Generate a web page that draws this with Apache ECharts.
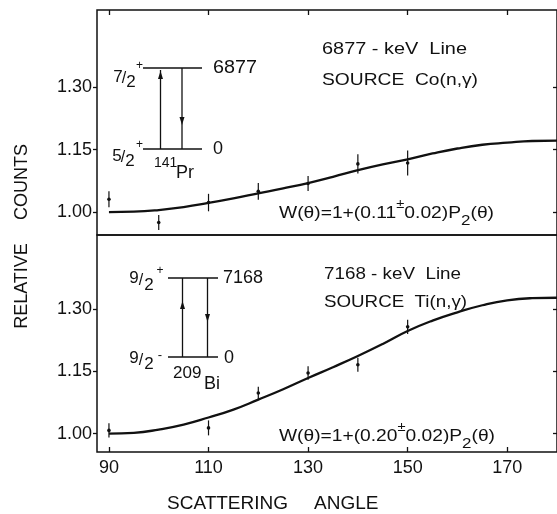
<!DOCTYPE html>
<html><head><meta charset="utf-8">
<script src="https://cdn.jsdelivr.net/npm/echarts@6/dist/echarts.min.js"></script>
<style>html,body{margin:0;padding:0;background:#fff}#c{width:557px;height:514px}</style>
</head><body><div id="c"></div>
<script>
// ---- data ----
const xTickValues = [90, 110, 130, 150, 170];
const yTickValues = [1.00, 1.15, 1.30];
const curveAngles = [90, 95, 100, 105, 110, 115, 120, 125, 130, 135, 140, 145, 150, 155, 160, 165, 170, 175, 180];
const topCurve = [1.000, 1.001, 1.005, 1.012, 1.022, 1.033, 1.045, 1.057, 1.070, 1.085, 1.101, 1.115, 1.127, 1.141, 1.153, 1.162, 1.167, 1.171, 1.172];
const bottomCurve = [1.000, 1.002, 1.010, 1.022, 1.039, 1.058, 1.082, 1.107, 1.134, 1.160, 1.187, 1.216, 1.247, 1.272, 1.292, 1.309, 1.321, 1.326, 1.327];
const topPointAngles = [90, 100, 110, 120, 130, 140, 150];
const topPointValues = [1.031, 0.975, 1.023, 1.050, 1.069, 1.116, 1.118];
const topPointErrors = [0.019, 0.018, 0.021, 0.020, 0.018, 0.023, 0.030];
const bottomPointAngles = [90, 110, 120, 130, 140, 150];
const bottomPointValues = [1.008, 1.014, 1.098, 1.146, 1.166, 1.257];
const bottomPointErrors = [0.017, 0.018, 0.015, 0.016, 0.017, 0.017];

const FONT = 'Liberation Sans';
const INK = '#111';

const chart = echarts.init(document.getElementById('c'), null, {renderer: 'canvas'});

const mctx = document.createElement('canvas').getContext('2d');
function mw(s, size) { mctx.font = size + 'px "' + FONT + '"'; return mctx.measureText(s).width; }

function pairs(xs, ys) { return xs.map((x, i) => [x, ys[i]]); }
function triples(xs, ys, es) { return xs.map((x, i) => [x, ys[i], es[i]]); }

function errRender(params, api) {
  const x = api.value(0), y = api.value(1), e = api.value(2);
  const p = api.coord([x, y]);
  const hi = api.coord([x, y + e]);
  const lo = api.coord([x, y - e]);
  return {
    type: 'group',
    children: [
      {type: 'line', shape: {x1: p[0], y1: hi[1], x2: p[0], y2: lo[1]}, style: {stroke: INK, lineWidth: 1.2}},
      {type: 'circle', shape: {cx: p[0], cy: p[1], r: 1.8}, style: {fill: INK}}
    ]
  };
}

function txt(x, y, s, size, align, extra) {
  return Object.assign({
    type: 'text', x: x, y: y,
    style: {text: s, fill: INK, font: size + 'px "' + FONT + '"', textAlign: align || 'left', textVerticalAlign: 'middle'}
  }, extra || {});
}
// left-anchored text stretched horizontally to the width it has in the picture
function fitTxt(x, y, s, size, width) {
  return txt(x, y, s, size, 'left', {scaleX: width / mw(s, size), originX: 0, originY: 0});
}
function seg(x1, y1, x2, y2, w) {
  return {type: 'line', shape: {x1, y1, x2, y2}, style: {stroke: INK, lineWidth: w || 1.3}};
}
function tri(pts) {
  return {type: 'polygon', shape: {points: pts}, style: {fill: INK}};
}
function formula(x, y, coef, width) {
  const S = 17, PM = 13, SUB = 15;
  const nat = mw('W(θ)=1+(' + coef, S) + mw('±', PM) + mw('0.02)P', S) + mw('2', SUB) + mw('(θ)', S);
  return {
    type: 'text', x: x, y: y, scaleX: width / nat, originX: 0, originY: 0,
    style: {
      text: '{n|W(θ)=1+(' + coef + '}{pm|±}{n|0.02)P}{sub|2}{n|(θ)}',
      textVerticalAlign: 'middle', textAlign: 'left',
      rich: {
        n: {fontFamily: FONT, fontSize: S, lineHeight: 30, fill: INK, verticalAlign: 'middle'},
        pm: {fontFamily: FONT, fontSize: PM, lineHeight: 20, fill: INK, verticalAlign: 'top'},
        sub: {fontFamily: FONT, fontSize: SUB, lineHeight: 14, fill: INK, verticalAlign: 'bottom'}
      }
    }
  };
}

const graphics = [
  // axis titles
  txt(167, 504, 'SCATTERING', 19, 'left'),
  txt(314, 504, 'ANGLE', 19, 'left'),
  txt(22, 286, 'RELATIVE', 18, 'center', {rotation: Math.PI / 2}),
  txt(22, 182, 'COUNTS', 18, 'center', {rotation: Math.PI / 2}),
  // top panel texts
  fitTxt(322, 49, '6877 - keV  Line', 16.5, 145),
  fitTxt(322, 80, 'SOURCE  Co(n,γ)', 16.5, 156),
  formula(279, 213, '0.11', 215),
  // top level scheme
  seg(143, 68, 202, 68), seg(143, 149, 202, 149),
  seg(160.5, 149, 160.5, 70), seg(182, 68, 182, 149),
  tri([[160.5, 71], [158, 79], [163, 79]]),
  tri([[182, 125], [179.5, 117], [184.5, 117]]),
  fitTxt(213, 68, '6877', 18, 44),
  txt(213, 149, '0', 18, 'left'),
  txt(118, 77, '7', 17, 'center'), txt(124, 79, '/', 16, 'center'), txt(131, 82, '2', 17, 'center'), txt(139.5, 66, '+', 12, 'center'),
  txt(117, 156, '5', 17, 'center'), txt(123, 158, '/', 16, 'center'), txt(130, 161, '2', 17, 'center'), txt(139.5, 145, '+', 12, 'center'),
  txt(154, 163, '141', 14, 'left'),
  txt(176, 173, 'Pr', 18, 'left'),
  // bottom panel texts
  fitTxt(324, 274, '7168 - keV  Line', 16.5, 137),
  fitTxt(324, 302, 'SOURCE  Ti(n,γ)', 16.5, 143),
  formula(279, 436, '0.20', 216),
  // bottom level scheme
  seg(168, 278, 218, 278), seg(168, 357, 218, 357),
  seg(182.5, 357, 182.5, 278), seg(207.5, 278, 207.5, 357),
  tri([[182.5, 301], [180, 309], [185, 309]]),
  tri([[207.5, 322], [205, 314], [210, 314]]),
  txt(223, 278, '7168', 18, 'left'),
  txt(224, 358, '0', 18, 'left'),
  txt(134, 278, '9', 17, 'center'), txt(141, 281, '/', 16, 'center'), txt(149, 285, '2', 17, 'center'), txt(160, 271, '+', 12, 'center'),
  txt(134, 358, '9', 17, 'center'), txt(141, 361, '/', 16, 'center'), txt(149, 364, '2', 17, 'center'), txt(160, 355, '-', 13, 'center'),
  txt(173, 373, '209', 17, 'left'),
  txt(204, 384, 'Bi', 18, 'left')
];

const xMin = 87.6, xMax = 180;
const labelStyle = {color: INK, fontFamily: FONT, fontSize: 18};
const noLine = {show: false};

function xAxisDef(gridIndex, position, withLabels) {
  return {
    type: 'value', gridIndex, position, min: xMin, max: xMax,
    axisLine: noLine, splitLine: {show: false},
    axisTick: {show: true, inside: true, length: 5, customValues: xTickValues, lineStyle: {color: INK, width: 1.3}},
    axisLabel: withLabels
      ? Object.assign({show: true, margin: 7, customValues: xTickValues}, labelStyle)
      : {show: false}
  };
}
function xAxisHidden(gridIndex) {
  return {type: 'value', gridIndex, position: 'bottom', min: xMin, max: xMax,
    axisLine: noLine, splitLine: {show: false}, axisTick: {show: false}, axisLabel: {show: false}};
}
function yAxisDef(gridIndex, position, min, max, withLabels) {
  return {
    type: 'value', gridIndex, position, min, max,
    axisLine: noLine, splitLine: {show: false},
    axisTick: {show: true, inside: !withLabels, length: 4, customValues: yTickValues, lineStyle: {color: INK, width: 1.3}},
    axisLabel: withLabels
      ? Object.assign({show: true, margin: 5, customValues: yTickValues, formatter: v => v.toFixed(2)}, labelStyle)
      : {show: false}
  };
}

const option = {
  backgroundColor: '#fff',
  animation: false,
  grid: [
    {left: 97, right: -2, top: 10, height: 225, show: true, borderColor: INK, borderWidth: 1.5},
    {left: 97, right: -2, top: 235, height: 217, show: true, borderColor: INK, borderWidth: 1.5}
  ],
  xAxis: [
    xAxisHidden(0),
    xAxisDef(0, 'top', false),
    xAxisDef(1, 'bottom', true)
  ],
  yAxis: [
    yAxisDef(0, 'left', 0.945, 1.486, true),
    yAxisDef(0, 'right', 0.945, 1.486, false),
    yAxisDef(1, 'left', 0.956, 1.478, true),
    yAxisDef(1, 'right', 0.956, 1.478, false)
  ],
  series: [
    {type: 'line', xAxisIndex: 0, yAxisIndex: 0, data: pairs(curveAngles, topCurve), smooth: true,
      showSymbol: false, lineStyle: {color: INK, width: 2.3}, clip: true},
    {type: 'custom', xAxisIndex: 0, yAxisIndex: 0, data: triples(topPointAngles, topPointValues, topPointErrors),
      renderItem: errRender},
    {type: 'line', xAxisIndex: 2, yAxisIndex: 2, data: pairs(curveAngles, bottomCurve), smooth: true,
      showSymbol: false, lineStyle: {color: INK, width: 2.3}, clip: true},
    {type: 'custom', xAxisIndex: 2, yAxisIndex: 2, data: triples(bottomPointAngles, bottomPointValues, bottomPointErrors),
      renderItem: errRender}
  ],
  graphic: graphics
};
chart.setOption(option);
</script>
</body></html>
